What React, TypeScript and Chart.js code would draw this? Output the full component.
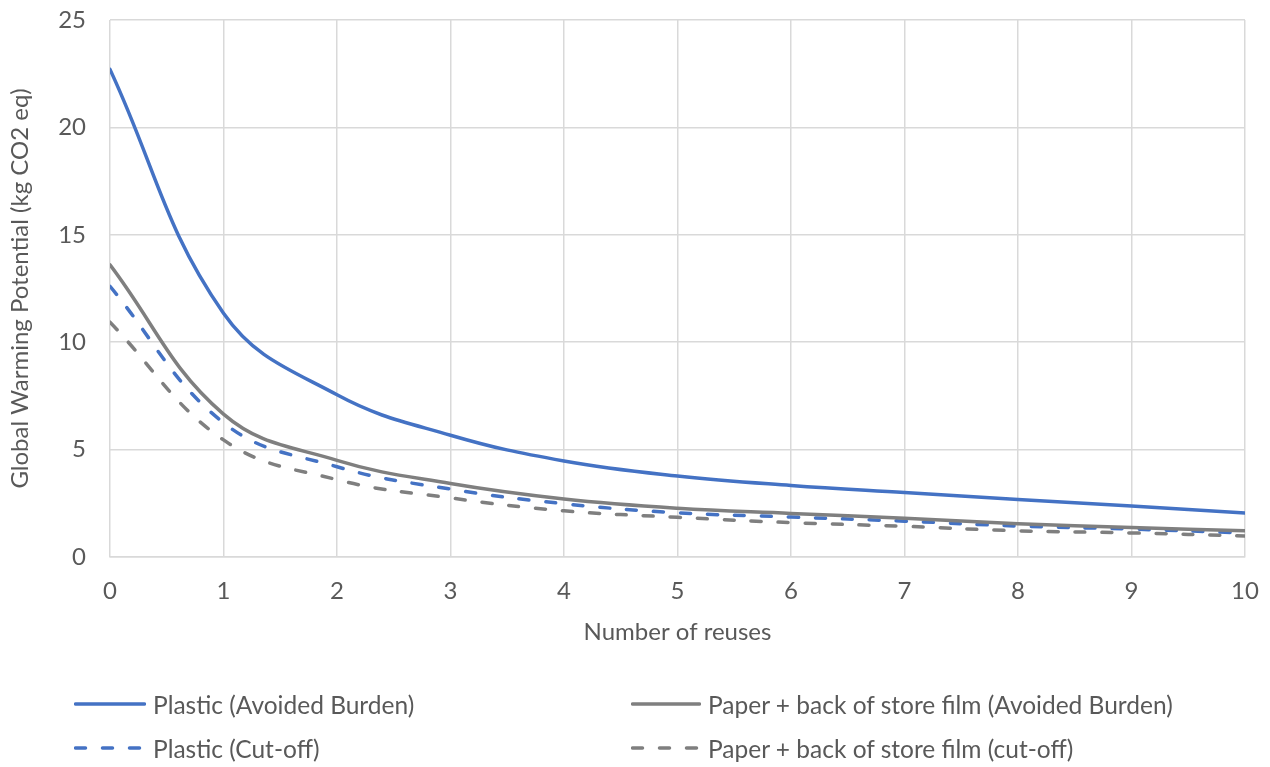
import React, { useEffect, useRef } from "react";
import { Chart, registerables } from "chart.js";

Chart.register(...registerables);

// Number of reuses (x) and global warming potential per scenario (kg CO2 eq)
const reuses = [0, 1, 2, 3, 4, 5, 6, 7, 8, 9, 10];
const plasticAvoided = [22.7, 11.35, 7.55, 5.67, 4.47, 3.77, 3.33, 3.0, 2.68, 2.37, 2.05];
const paperAvoided = [13.6, 6.65, 4.5, 3.42, 2.7, 2.27, 2.03, 1.8, 1.55, 1.37, 1.22];
const plasticCutoff = [12.6, 6.25, 4.2, 3.16, 2.48, 2.06, 1.86, 1.67, 1.44, 1.3, 1.12];
const paperCutoff = [10.93, 5.45, 3.6, 2.75, 2.15, 1.85, 1.6, 1.43, 1.22, 1.12, 0.98];

const seriesNames = [
  "Plastic (Avoided Burden)",
  "Paper + back of store film (Avoided Burden)",
  "Plastic (Cut-off)",
  "Paper + back of store film (cut-off)",
];

const BLUE = "#4472C4";
const GRAY = "#7F7F7F";
const TEXT = "#595959";
const GRID = "#D9D9D9";
const FONT = "Lato, 'Open Sans', sans-serif";
const FONT_SIZE = 24;
const DASH = [10, 17];

function LegendItem(props: { x: number; y: number; width: number; color: string; dashed: boolean; label: string }) {
  const { x, y, width, color, dashed, label } = props;
  return (
    <div style={{ position: "absolute", left: x, top: y - 16, height: 32, display: "flex", alignItems: "center" }}>
      <svg width={width} height={32} style={{ display: "block" }}>
        <line
          x1={1.5}
          y1={16}
          x2={width - 1.5}
          y2={16}
          stroke={color}
          strokeWidth={3.5}
          strokeLinecap="round"
          strokeDasharray={dashed ? DASH.join(" ") : undefined}
        />
      </svg>
      <span style={{ marginLeft: 7, font: `24.5px ${FONT}`, color: TEXT, whiteSpace: "nowrap" }}>{label}</span>
    </div>
  );
}

export default function App() {
  const canvasRef = useRef<HTMLCanvasElement | null>(null);

  useEffect(() => {
    document.body.style.margin = "0";
    const canvas = canvasRef.current;
    if (!canvas) return;
    const toPoints = (vals: number[]) => vals.map((v, i) => ({ x: reuses[i], y: v }));
    const tickFont = { family: FONT, size: FONT_SIZE };
    const chart = new Chart(canvas, {
      type: "line",
      data: {
        datasets: [
          { label: seriesNames[0], data: toPoints(plasticAvoided), borderColor: BLUE },
          { label: seriesNames[1], data: toPoints(paperAvoided), borderColor: GRAY },
          { label: seriesNames[2], data: toPoints(plasticCutoff), borderColor: BLUE, borderDash: DASH },
          { label: seriesNames[3], data: toPoints(paperCutoff), borderColor: GRAY, borderDash: DASH },
        ].map((d) => ({
          ...d,
          borderWidth: 3.5,
          borderCapStyle: "round" as const,
          borderJoinStyle: "round" as const,
          pointRadius: 0,
          tension: 0.4,
          fill: false,
        })),
      },
      options: {
        animation: false,
        responsive: false,
        maintainAspectRatio: false,
        layout: { padding: { left: 0, right: 25, top: 20, bottom: 120 } },
        plugins: { legend: { display: false }, tooltip: { enabled: false } },
        scales: {
          x: {
            type: "linear",
            min: 0,
            max: 10,
            grid: { color: GRID, lineWidth: 1.5, drawTicks: false },
            border: { color: GRID, width: 1.5 },
            ticks: { stepSize: 1, color: TEXT, font: tickFont, padding: 20 },
            title: {
              display: true,
              text: "Number of reuses",
              color: TEXT,
              font: tickFont,
              padding: { top: 8, bottom: 0 },
            },
            afterFit: (scale: any) => {
              scale.height = 90;
              scale.paddingLeft = 0;
              scale.paddingRight = 0;
            },
          },
          y: {
            min: 0,
            max: 25,
            grid: { color: GRID, lineWidth: 1.5, drawTicks: false },
            border: { display: false },
            ticks: { stepSize: 5, color: TEXT, font: tickFont, padding: 24 },
            title: {
              display: true,
              text: "Global Warming Potential (kg CO2 eq)",
              color: TEXT,
              font: tickFont,
              padding: { top: 6, bottom: 0 },
            },
            afterFit: (scale: any) => {
              scale.width = 110;
              scale.paddingTop = 0;
              scale.paddingBottom = 0;
            },
          },
        },
      },
    });
    return () => chart.destroy();
  }, []);

  return (
    <div style={{ position: "relative", width: 1270, height: 767, background: "#fff", overflow: "hidden" }}>
      <canvas ref={canvasRef} width={1270} height={767} style={{ display: "block" }} />
      <LegendItem x={74} y={704} width={72} color={BLUE} dashed={false} label={seriesNames[0]} />
      <LegendItem x={631} y={704} width={70} color={GRAY} dashed={false} label={seriesNames[1]} />
      <LegendItem x={74} y={748} width={72} color={BLUE} dashed={true} label={seriesNames[2]} />
      <LegendItem x={631} y={748} width={70} color={GRAY} dashed={true} label={seriesNames[3]} />
    </div>
  );
}
